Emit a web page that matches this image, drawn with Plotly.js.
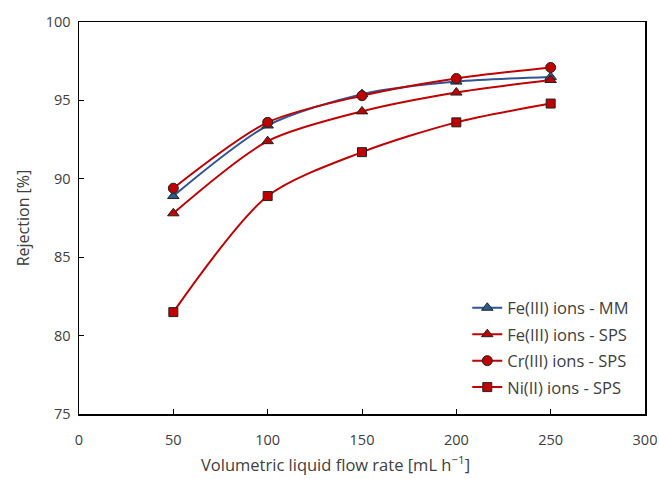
<!DOCTYPE html>
<html>
<head>
<meta charset="utf-8">
<script src="https://cdn.plot.ly/plotly-3.0.1.min.js"></script>
<style>html,body{margin:0;padding:0;background:#fff;}#chart{width:659px;height:479px;}</style>
</head>
<body>
<div id="chart"></div>
<script>
var flowRate = [50, 100, 150, 200, 250];
var seriesNames = ["Fe(III) ions - MM", "Fe(III) ions - SPS", "Cr(III) ions - SPS", "Ni(II) ions - SPS"];
var feMM = [88.9, 93.4, 95.4, 96.2, 96.5];
var feSPS = [87.8, 92.4, 94.3, 95.5, 96.3];
var crSPS = [89.4, 93.6, 95.3, 96.4, 97.1];
var niSPS = [81.5, 88.9, 91.7, 93.6, 94.8];
var xTicks = [0, 50, 100, 150, 200, 250, 300];
var yTicks = [75, 80, 85, 90, 95, 100];
var xTitle = "Volumetric liquid flow rate [mL h<sup>\u22121</sup>]";
var yTitle = "Rejection [%]";

var red = "#C00000";
var blue = "#2F5597";
function mk(name, y, color, fill, symbol, size, grp) {
  return {
    x: flowRate, y: y, name: name, type: "scatter", mode: "lines+markers", legendgroup: grp,
    line: {color: color, width: 2, shape: "spline", smoothing: 0.8},
    marker: {symbol: symbol, size: size, color: fill, line: {color: "#222", width: 1}}
  };
}
var data = [
  mk(seriesNames[0], feMM, blue, "#2E5A8C", "triangle-up", 10, "g1"),
  mk(seriesNames[1], feSPS, red, red, "triangle-up", 10, "g2"),
  mk(seriesNames[2], crSPS, red, red, "circle", 10, "g3"),
  mk(seriesNames[3], niSPS, red, red, "square", 9, "g4")
];
var layout = {
  width: 659, height: 479,
  margin: {l: 79, r: 14, t: 22, b: 65},
  paper_bgcolor: "#fff", plot_bgcolor: "#fff",
  font: {family: "Open Sans, Liberation Sans, sans-serif", size: 14, color: "#404040"},
  showlegend: true,
  legend: {x: 0.686, y: 0.315, xanchor: "left", yanchor: "top", bgcolor: "rgba(0,0,0,0)",
           font: {size: 16.5, color: "#404040"}, tracegroupgap: 2, itemwidth: 30},
  xaxis: {
    range: [0, 300], tickvals: xTicks, ticks: "inside", ticklen: 5, tickcolor: "#000",
    showline: true, linecolor: "#000", linewidth: 1.5, mirror: true, showgrid: false, zeroline: false,
    tickfont: {size: 14.5, color: "#404040"}, ticklabelstandoff: 12
  },
  yaxis: {
    range: [75, 100], tickvals: yTicks, ticks: "inside", ticklen: 5, tickcolor: "#000",
    showline: true, linecolor: "#000", linewidth: 1.5, mirror: true, showgrid: false, zeroline: false,
    tickfont: {size: 14.5, color: "#404040"}, ticklabelstandoff: 4,
    title: {text: yTitle, font: {size: 16, color: "#404040"}, standoff: 12}
  },
  annotations: [{
    text: xTitle, xref: "paper", yref: "paper", x: 0.454, y: -0.128,
    xanchor: "center", yanchor: "middle", showarrow: false,
    font: {size: 16.5, color: "#404040"}
  }]
};
Plotly.newPlot("chart", data, layout, {displayModeBar: false, staticPlot: true});
</script>
</body>
</html>
